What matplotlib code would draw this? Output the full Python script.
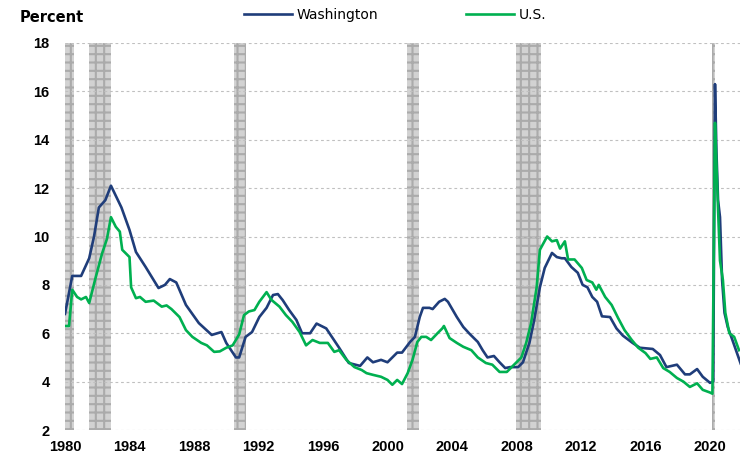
import matplotlib.pyplot as plt

# Unemployment rate
wa_year = [1980.0, 1980.45, 1981.0, 1981.5, 1981.8, 1982.1, 1982.5, 1982.85,
           1983.5, 1984.0, 1984.4, 1985.0, 1985.8, 1986.2, 1986.5, 1986.9, 1987.5,
           1988.3, 1989.1, 1989.7, 1990.0, 1990.6, 1990.8, 1991.2, 1991.6, 1992.05,
           1992.5, 1992.9, 1993.2, 1993.5, 1993.9, 1994.35, 1994.7, 1995.2, 1995.6,
           1996.2, 1996.6, 1997.0, 1997.6, 1998.3, 1998.75, 1999.1, 1999.6, 2000.0,
           2000.6, 2000.9, 2001.4, 2001.7, 2002.0, 2002.2, 2002.6, 2002.8, 2003.2,
           2003.55, 2003.75, 2004.3, 2004.7, 2005.1, 2005.6, 2005.9, 2006.2, 2006.6,
           2006.95, 2007.3, 2007.6, 2008.1, 2008.4, 2008.8, 2009.1, 2009.45, 2009.75,
           2010.2, 2010.5, 2010.8, 2011.0, 2011.4, 2011.8, 2012.1, 2012.4, 2012.7,
           2013.0, 2013.3, 2013.8, 2014.2, 2014.6, 2015.2, 2015.65, 2016.45, 2016.9,
           2017.3, 2017.95, 2018.45, 2018.75, 2019.2, 2019.55, 2020.0, 2020.2,
           2020.31, 2020.4, 2020.5, 2020.62, 2020.75, 2020.9, 2021.1, 2021.4, 2021.9]
wa_val = [6.8, 8.37, 8.37, 9.1, 10.0, 11.2, 11.5, 12.1,
          11.2, 10.27, 9.36, 8.74, 7.87, 8.0, 8.24, 8.1, 7.17,
          6.42, 5.93, 6.05, 5.6, 5.0, 5.0, 5.85, 6.05, 6.67,
          7.05, 7.58, 7.62, 7.37, 6.96, 6.55, 6.0, 6.0, 6.4,
          6.2, 5.8, 5.4, 4.77, 4.65, 5.0, 4.8, 4.9, 4.8,
          5.2, 5.2, 5.64, 5.85, 6.67, 7.05, 7.05, 7.0, 7.3,
          7.42, 7.3, 6.67, 6.26, 5.97, 5.64, 5.3, 5.0, 5.06,
          4.8, 4.56, 4.6, 4.6, 4.8, 5.6, 6.55, 7.9, 8.7,
          9.32, 9.15, 9.1, 9.1, 8.74, 8.5, 8.0, 7.9, 7.5,
          7.3, 6.7, 6.67, 6.2, 5.9, 5.6, 5.4, 5.35, 5.1,
          4.6, 4.7, 4.3, 4.3, 4.52, 4.2, 3.95, 4.0,
          16.3, 13.5, 11.5, 10.8, 8.2, 6.84, 6.26, 5.7, 4.75]

us_year = [1980.0, 1980.25, 1980.45, 1980.75, 1981.0, 1981.3, 1981.5, 1981.9,
           1982.3, 1982.6, 1982.85, 1983.15, 1983.4, 1983.55, 1984.0, 1984.1,
           1984.4, 1984.65, 1985.0, 1985.5, 1986.0, 1986.3, 1986.6, 1987.1, 1987.5,
           1987.9, 1988.45, 1988.8, 1989.25, 1989.6, 1990.0, 1990.4, 1990.8, 1991.1,
           1991.4, 1991.75, 1992.05, 1992.5, 1992.8, 1993.3, 1993.7, 1994.1, 1994.55,
           1994.95, 1995.35, 1995.8, 1996.3, 1996.7, 1997.0, 1997.45, 1997.95, 1998.4,
           1998.7, 1999.1, 1999.6, 2000.0, 2000.3, 2000.6, 2000.9, 2001.25, 2001.55,
           2001.85, 2002.1, 2002.4, 2002.7, 2003.1, 2003.4, 2003.5, 2003.85, 2004.3,
           2004.7, 2005.2, 2005.6, 2006.1, 2006.5, 2006.95, 2007.4, 2007.7, 2008.0,
           2008.3, 2008.6, 2008.9, 2009.25, 2009.45, 2009.9, 2010.2, 2010.5, 2010.7,
           2011.0, 2011.2, 2011.6, 2012.05, 2012.35, 2012.7, 2012.95, 2013.1, 2013.5,
           2013.9, 2014.3, 2014.7, 2015.15, 2015.55, 2016.0, 2016.3, 2016.7, 2017.1,
           2017.5, 2017.95, 2018.35, 2018.75, 2019.2, 2019.55, 2020.0, 2020.15,
           2020.31, 2020.4, 2020.5, 2020.62, 2020.8, 2020.95, 2021.2, 2021.5, 2021.8]
us_val = [6.3, 6.3, 7.8, 7.5, 7.4, 7.5, 7.25, 8.3,
          9.3, 9.9, 10.8, 10.4, 10.2, 9.45, 9.15, 7.9,
          7.45, 7.5, 7.3, 7.35, 7.1, 7.15, 7.0, 6.67, 6.13,
          5.85, 5.6, 5.5, 5.23, 5.25, 5.4, 5.5, 5.95, 6.75,
          6.9, 6.96, 7.3, 7.7, 7.38, 7.1, 6.75, 6.47, 6.05,
          5.5, 5.72, 5.6, 5.6, 5.23, 5.3, 4.9, 4.6, 4.48,
          4.35, 4.28, 4.2, 4.07, 3.87, 4.07, 3.9, 4.35, 4.9,
          5.64, 5.85, 5.85, 5.72, 6.0, 6.2, 6.3, 5.8, 5.6,
          5.44, 5.3, 5.0, 4.77, 4.7, 4.4, 4.4, 4.6, 4.8,
          5.0, 5.6, 6.4, 7.9, 9.45, 10.0, 9.8, 9.85, 9.5,
          9.8, 9.05, 9.05, 8.7, 8.2, 8.1, 7.8, 8.0, 7.5,
          7.17, 6.63, 6.13, 5.72, 5.4, 5.18, 4.94, 5.0, 4.56,
          4.4, 4.15, 4.0, 3.78, 3.93, 3.66, 3.55, 3.5,
          14.7, 13.0, 11.1, 9.0, 8.2, 6.85, 6.0, 5.85, 5.3]

# NBER recessions
rec_start = [1980.0, 1981.5, 1990.5, 2001.2, 2007.95, 2020.1]
rec_end = [1980.55, 1982.85, 1991.2, 2001.95, 2009.5, 2020.3]

fig = plt.figure(figsize=(7.4, 4.59), dpi=100)
ax = fig.add_axes([65 / 740, 1 - 430 / 459, 675 / 740, 387 / 459])

plt.rcParams['hatch.linewidth'] = 1.5
for s, e in zip(rec_start, rec_end):
    ax.axvspan(s, e, facecolor='#d2d2d2', edgecolor='#ababab', hatch='++',
               linewidth=0, zorder=0)

ax.plot(wa_year, wa_val, color='#1f3d7a', lw=1.9, label='Washington', zorder=3)
ax.plot(us_year, us_val, color='#00b050', lw=1.9, label='U.S.', zorder=4)

ax.set_xlim(1980, 1980 + 675 / 16.125)
ax.set_ylim(2, 18)
ax.set_xticks(range(1980, 2021, 4))
ax.set_yticks(range(2, 19, 2))
ax.yaxis.grid(True, color='#c0c0c0', linestyle=(0, (2.5, 2.5)), linewidth=0.8)
ax.set_axisbelow(True)
for sp in ax.spines.values():
    sp.set_visible(False)
ax.tick_params(length=0)
ax.tick_params(axis='y', pad=11)
ax.tick_params(axis='x', pad=7)
for lbl in ax.get_xticklabels() + ax.get_yticklabels():
    lbl.set_fontfamily('Liberation Sans')
    lbl.set_fontweight('bold')
    lbl.set_fontsize(10.5)

fig.text(20 / 740, 1 - 17 / 459, 'Percent', fontsize=10.5, fontweight='bold',
         va='center', ha='left')

ax.legend(loc='center', bbox_to_anchor=((395 - 65) / 675, 1 + 28 / 387), ncol=2,
          frameon=False, handlelength=3.5, columnspacing=6.3, handletextpad=0.3,
          prop={'size': 10})

fig.savefig('out.png', dpi=100)
